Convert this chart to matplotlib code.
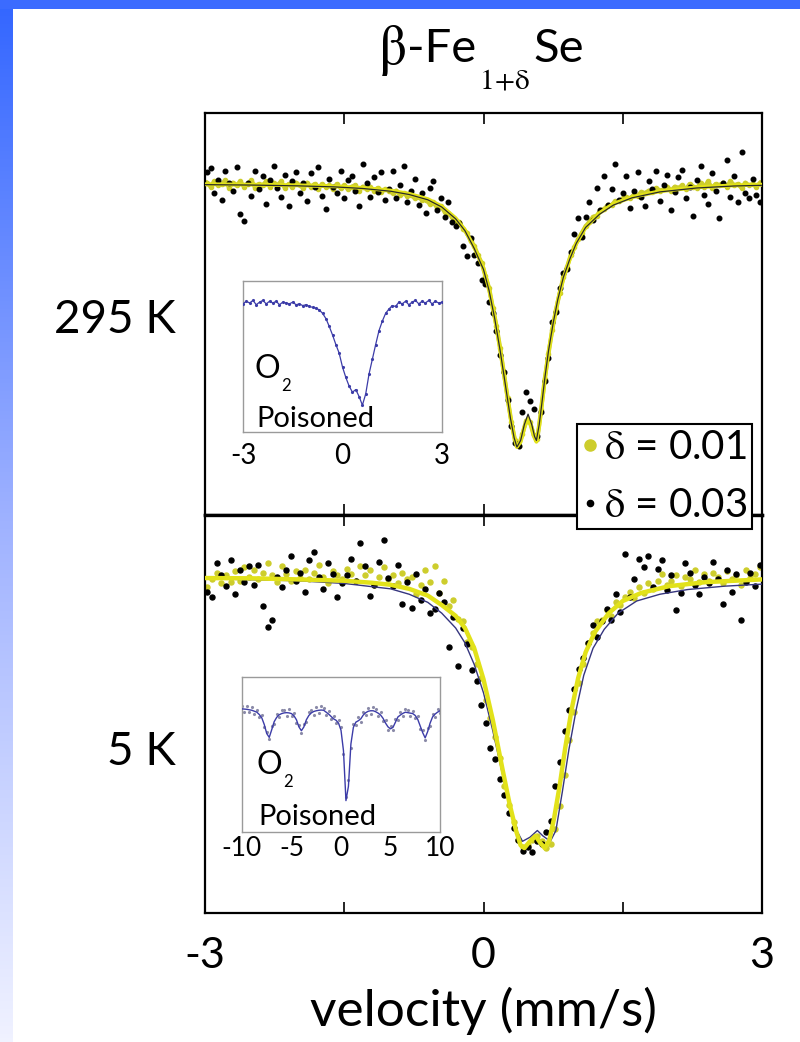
import numpy as np
import matplotlib
matplotlib.use("Agg")
import matplotlib.pyplot as plt
from matplotlib.lines import Line2D
from matplotlib.patches import Rectangle
from matplotlib.colors import LinearSegmentedColormap

plt.rcParams['font.family'] = ['Lato', 'DejaVu Sans']
plt.rcParams['mathtext.fontset'] = 'stix'

# ---------------- data ----------------
# channel velocities (mm/s), 295 K spectra
v_top = [-2.98, -2.94, -2.90, -2.86, -2.82, -2.78, -2.74, -2.70, -2.66, -2.62,
         -2.58, -2.54, -2.50, -2.46, -2.42, -2.38, -2.34, -2.30, -2.26, -2.22,
         -2.18, -2.14, -2.10, -2.06, -2.02, -1.98, -1.94, -1.90, -1.86, -1.82,
         -1.78, -1.74, -1.70, -1.66, -1.62, -1.58, -1.54, -1.50, -1.46, -1.42,
         -1.38, -1.34, -1.30, -1.26, -1.22, -1.18, -1.14, -1.10, -1.06, -1.02,
         -0.98, -0.94, -0.90, -0.86, -0.82, -0.78, -0.74, -0.70, -0.66, -0.62,
         -0.58, -0.54, -0.50, -0.46, -0.42, -0.38, -0.34, -0.30, -0.26, -0.22,
         -0.18, -0.14, -0.10, -0.06, -0.02, 0.02, 0.06, 0.10, 0.14, 0.18,
         0.22, 0.26, 0.30, 0.34, 0.38, 0.42, 0.46, 0.50, 0.54, 0.58,
         0.62, 0.66, 0.70, 0.74, 0.78, 0.82, 0.86, 0.90, 0.94, 0.98,
         1.02, 1.06, 1.10, 1.14, 1.18, 1.22, 1.26, 1.30, 1.34, 1.38,
         1.42, 1.46, 1.50, 1.54, 1.58, 1.62, 1.66, 1.70, 1.74, 1.78,
         1.82, 1.86, 1.90, 1.94, 1.98, 2.02, 2.06, 2.10, 2.14, 2.18,
         2.22, 2.26, 2.30, 2.34, 2.38, 2.42, 2.46, 2.50, 2.54, 2.58,
         2.62, 2.66, 2.70, 2.74, 2.78, 2.82, 2.86, 2.90, 2.94, 2.98]

# relative transmission (%), delta = 0.03, 295 K
t_top_003 = [100.9, 101.2, 99.3, 100.3, 98.8, 101.0, 100.1, 99.5, 101.3, 97.7,
             97.2, 100.1, 99.1, 101.0, 99.6, 100.6, 98.5, 100.3, 101.4, 99.7,
             99.0, 100.7, 98.3, 100.2, 100.9, 99.3, 100.1, 98.7, 100.8, 99.8,
             101.3, 99.1, 98.1, 100.4, 99.8, 99.3, 101.0, 98.9, 100.3, 100.6,
             99.5, 98.3, 101.5, 100.1, 99.0, 100.5, 99.4, 100.9, 98.8, 99.6,
             101.0, 98.9, 99.9, 101.4, 98.6, 99.5, 100.4, 98.4, 99.3, 97.8,
             99.7, 100.2, 98.0, 98.9, 97.5, 98.6, 97.1, 96.8, 97.0, 95.3,
             94.5, 95.9, 94.6, 94.0, 92.7, 92.4, 91.0, 90.2, 88.8, 87.0,
             85.7, 83.6, 81.6, 80.3, 80.1, 82.7, 84.2, 83.5, 82.9, 80.8,
             82.7, 85.0, 86.8, 89.5, 90.3, 92.1, 93.2, 93.5, 94.8, 96.2,
             97.4, 96.0, 97.5, 98.6, 97.3, 99.7, 98.0, 100.6, 98.4, 99.6,
             101.5, 98.8, 99.3, 100.6, 98.2, 99.5, 100.9, 99.0, 98.3, 100.2,
             99.6, 101.0, 98.7, 99.9, 100.7, 98.0, 99.4, 100.5, 101.1, 98.9,
             99.8, 97.6, 100.3, 101.4, 99.2, 98.5, 100.8, 99.5, 97.4, 100.1,
             101.8, 99.0, 100.6, 98.6, 102.4, 99.3, 98.9, 100.4, 99.2, 98.6]

# relative transmission (%), delta = 0.01, 295 K
t_top_001 = [100.1, 99.8, 100.2, 99.9, 100.0, 100.3, 99.7, 100.1, 99.9, 100.2,
             99.8, 100.0, 100.3, 99.7, 100.0, 99.9, 100.2, 99.8, 100.1, 99.9,
             100.2, 99.7, 100.0, 99.8, 100.1, 99.9, 99.7, 100.1, 99.8, 100.0,
             99.6, 100.0, 99.8, 99.9, 99.6, 100.0, 99.7, 99.9, 99.6, 99.8,
             99.9, 99.5, 99.8, 99.6, 99.8, 99.5, 99.7, 99.4, 99.6, 99.5,
             99.3, 99.5, 99.2, 99.3, 99.1, 99.2, 98.9, 99.0, 98.8, 98.8,
             98.5, 98.6, 98.2, 98.3, 97.9, 97.8, 97.5, 97.2, 97.1, 96.6,
             96.3, 95.7, 95.3, 94.6, 94.0, 93.0, 92.1, 90.6, 89.2, 87.5,
             85.6, 83.7, 81.9, 80.5, 80.1, 81.0, 82.0, 81.9, 80.9, 80.6,
             82.8, 85.2, 87.1, 88.9, 90.4, 91.7, 92.9, 93.7, 94.6, 95.2,
             95.8, 96.3, 96.8, 97.1, 97.5, 97.6, 98.0, 98.1, 98.4, 98.4,
             98.7, 98.7, 98.9, 99.0, 98.9, 99.2, 99.1, 99.4, 99.3, 99.5,
             99.4, 99.7, 99.5, 99.6, 99.8, 99.5, 99.8, 99.7, 99.9, 99.6,
             100.0, 99.8, 99.7, 100.1, 99.8, 100.2, 99.7, 100.0, 99.9, 100.1,
             99.8, 100.2, 99.9, 100.0, 99.7, 100.1, 99.9, 100.0, 99.8, 100.1]

# fitted curves, 295 K
fit_top_v = [-3.0, -2.5, -2.0, -1.6, -1.3, -1.0, -0.8, -0.6, -0.45, -0.3,
             -0.2, -0.1, 0.0, 0.06, 0.12, 0.18, 0.23, 0.29, 0.33, 0.36,
             0.40, 0.44, 0.48, 0.52, 0.55, 0.57, 0.60, 0.63, 0.66, 0.70,
             0.75, 0.80, 0.86, 0.93, 1.0, 1.1, 1.25, 1.4, 1.6, 1.9,
             2.3, 2.7, 3.0]
fit_top_001 = [99.98, 99.95, 99.9, 99.82, 99.7, 99.5, 99.25, 98.85, 98.3, 97.4,
               96.5, 95.2, 93.6, 92.0, 89.9, 87.4, 85.1, 82.3, 80.8, 80.0,
               80.4, 81.5, 82.2, 81.5, 80.7, 80.4, 81.6, 83.3, 85.1, 87.2,
               89.3, 91.1, 92.8, 94.3, 95.5, 96.7, 97.8, 98.5, 99.0, 99.45,
               99.75, 99.9, 99.95]
fit_top_003 = [99.95, 99.92, 99.86, 99.78, 99.66, 99.45, 99.2, 98.8, 98.25, 97.35,
               96.45, 95.1, 93.5, 91.9, 89.8, 87.3, 85.0, 82.2, 80.7, 80.0,
               80.5, 81.7, 82.5, 81.7, 80.8, 80.5, 81.7, 83.4, 85.2, 87.3,
               89.4, 91.2, 92.9, 94.3, 95.5, 96.7, 97.7, 98.4, 98.95, 99.4,
               99.7, 99.85, 99.9]

# channel velocities (mm/s), 5 K spectra
v_bot = [-2.975, -2.925, -2.875, -2.825, -2.775, -2.725, -2.675, -2.625, -2.575, -2.525,
         -2.475, -2.425, -2.375, -2.325, -2.275, -2.225, -2.175, -2.125, -2.075, -2.025,
         -1.975, -1.925, -1.875, -1.825, -1.775, -1.725, -1.675, -1.625, -1.575, -1.525,
         -1.475, -1.425, -1.375, -1.325, -1.275, -1.225, -1.175, -1.125, -1.075, -1.025,
         -0.975, -0.925, -0.875, -0.825, -0.775, -0.725, -0.675, -0.625, -0.575, -0.525,
         -0.475, -0.425, -0.375, -0.325, -0.275, -0.225, -0.175, -0.125, -0.075, -0.025,
         0.025, 0.075, 0.125, 0.175, 0.225, 0.275, 0.325, 0.375, 0.425, 0.475,
         0.525, 0.575, 0.625, 0.675, 0.725, 0.775, 0.825, 0.875, 0.925, 0.975,
         1.025, 1.075, 1.125, 1.175, 1.225, 1.275, 1.325, 1.375, 1.425, 1.475,
         1.525, 1.575, 1.625, 1.675, 1.725, 1.775, 1.825, 1.875, 1.925, 1.975,
         2.025, 2.075, 2.125, 2.175, 2.225, 2.275, 2.325, 2.375, 2.425, 2.475,
         2.525, 2.575, 2.625, 2.675, 2.725, 2.775, 2.825, 2.875, 2.925, 2.975]

t_bot_003 = [99.0, 98.6, 101.1, 100.2, 99.4, 101.3, 98.8, 100.6, 99.7, 100.9,
             99.5, 101.0, 97.9, 96.4, 96.9, 100.1, 99.3, 100.6, 101.6, 99.8,
             100.4, 99.0, 101.3, 101.9, 100.1, 99.2, 101.1, 100.3, 98.6, 99.6,
             100.2, 101.4, 99.8, 102.6, 100.9, 98.7, 99.5, 101.2, 102.8, 100.0,
             99.4, 101.0, 98.1, 99.7, 97.8, 100.3, 98.4, 99.2, 97.4, 97.7,
             98.9, 98.2, 94.9, 97.1, 93.5, 96.3, 95.1, 93.2, 92.4, 90.6,
             89.3, 87.4, 86.6, 85.1, 83.9, 82.6, 81.5, 80.6, 79.8, 80.1,
             79.7, 80.5, 80.3, 81.2, 82.0, 84.6, 86.4, 88.7, 90.2, 91.8,
             93.3, 94.1, 95.2, 96.5, 95.6, 96.8, 97.7, 96.9, 98.8, 97.5,
             101.8, 98.6, 99.9, 101.4, 100.8, 101.6, 99.3, 100.7, 101.3, 99.1,
             100.2, 97.6, 98.9, 101.1, 100.4, 99.5, 98.8, 100.1, 99.6, 101.2,
             99.9, 98.1, 100.6, 99.0, 100.3, 96.9, 99.7, 100.4, 99.4, 101.0]

t_bot_001 = [99.3, 99.9, 100.4, 99.6, 100.2, 99.7, 100.5, 99.8, 100.8, 100.1,
             100.6, 99.9, 100.4, 101.1, 100.2, 99.7, 100.9, 100.3, 99.8, 100.5,
             100.0, 100.6, 99.9, 100.4, 101.0, 100.1, 99.6, 100.5, 100.2, 99.9,
             100.7, 100.3, 99.8, 100.9, 100.2, 100.6, 99.5, 100.1, 100.8, 99.9,
             100.2, 99.6, 100.4, 99.9, 100.1, 98.8, 99.5, 100.6, 99.7, 100.9,
             98.9, 99.8, 97.9, 98.4, 97.0, 96.8, 95.3, 94.9, 93.6, 92.6,
             91.0, 89.6, 88.2, 86.7, 84.6, 83.2, 81.9, 80.6, 80.1, 80.2,
             80.6, 80.9, 80.5, 80.0, 80.3, 81.4, 83.1, 85.4, 88.0, 90.1,
             92.2, 93.6, 95.2, 95.9, 96.8, 96.9, 97.6, 97.2, 98.2, 98.0,
             98.6, 99.0, 98.5, 99.3, 98.9, 99.6, 99.2, 99.8, 100.3, 99.5,
             99.8, 100.2, 99.4, 100.1, 99.9, 100.6, 99.7, 100.3, 99.8, 100.4,
             100.1, 99.6, 100.5, 99.9, 100.2, 99.5, 100.6, 100.0, 100.3, 100.8]

# fitted curves, 5 K
fit_bot_v1 = [-3.0, -2.5, -2.0, -1.5, -1.2, -1.0, -0.8, -0.6, -0.45, -0.3,
              -0.2, -0.1, 0.0, 0.1, 0.2, 0.28, 0.35, 0.40, 0.44, 0.50,
              0.56, 0.61, 0.66, 0.71, 0.76, 0.82, 0.88, 0.95, 1.02, 1.1,
              1.2, 1.35, 1.5, 1.7, 2.0, 2.4, 3.0]
fit_bot_001 = [100.0, 99.98, 99.9, 99.8, 99.65, 99.5, 99.2, 98.7, 98.0, 97.2,
               96.3, 94.8, 92.5, 89.5, 86.0, 83.3, 81.3, 80.2, 80.0, 80.5,
               80.9, 80.4, 80.0, 80.6, 82.2, 84.6, 87.4, 90.3, 92.6, 94.5,
               96.0, 97.4, 98.3, 98.9, 99.4, 99.7, 99.9]
fit_bot_v2 = [-3.0, -2.0, -1.5, -1.0, -0.8, -0.6, -0.45, -0.3, -0.2, -0.1,
              0.0, 0.1, 0.2, 0.28, 0.35, 0.42, 0.50, 0.58, 0.64, 0.72,
              0.78, 0.85, 0.92, 1.0, 1.08, 1.18, 1.3, 1.45, 1.65, 1.9,
              2.2, 2.6, 3.0]
fit_bot_003 = [99.95, 99.8, 99.6, 99.2, 98.8, 98.2, 97.4, 96.3, 95.2, 93.6,
               91.5, 88.7, 85.6, 83.2, 81.4, 80.5, 80.8, 81.3, 80.9, 80.5,
               81.3, 84.2, 87.3, 90.3, 92.8, 94.8, 96.2, 97.4, 98.3, 98.8,
               99.15, 99.4, 99.55]

# inset: O2-poisoned, 295 K
ins_top_v = [-3.0, -2.9, -2.8, -2.7, -2.6, -2.5, -2.4, -2.3, -2.2, -2.1,
             -2.0, -1.9, -1.8, -1.7, -1.6, -1.5, -1.4, -1.3, -1.2, -1.1,
             -1.0, -0.9, -0.8, -0.7, -0.6, -0.5, -0.4, -0.3, -0.2, -0.1,
             0.0, 0.1, 0.2, 0.3, 0.4, 0.5, 0.6, 0.7, 0.8, 0.9,
             1.0, 1.1, 1.2, 1.3, 1.4, 1.5, 1.6, 1.7, 1.8, 1.9,
             2.0, 2.1, 2.2, 2.3, 2.4, 2.5, 2.6, 2.7, 2.8, 2.9,
             3.0]
ins_top_t = [99.9, 100.2, 100.0, 100.3, 99.8, 100.1, 100.3, 99.9, 100.2, 100.0,
             100.2, 99.8, 100.1, 100.0, 99.9, 100.1, 99.8, 99.9, 99.7, 99.8,
             99.6, 99.5, 99.4, 99.2, 98.8, 98.2, 97.3, 96.3, 95.2, 94.2,
             92.6, 91.4, 90.4, 89.7, 90.0, 89.2, 88.2, 89.5, 91.8, 93.5,
             95.2, 96.8, 97.9, 98.8, 99.3, 99.7, 99.6, 100.1, 99.9, 100.2,
             99.8, 100.1, 100.3, 99.9, 100.2, 100.0, 100.3, 99.9, 100.2, 100.0,
             100.1]

# inset: O2-poisoned, 5 K (wide velocity range)
ins_bot_v = [-10.0, -9.75, -9.5, -9.25, -9.0, -8.75, -8.5, -8.25, -8.0, -7.75,
             -7.5, -7.25, -7.0, -6.75, -6.5, -6.25, -6.0, -5.75, -5.5, -5.25,
             -5.0, -4.75, -4.5, -4.25, -4.0, -3.75, -3.5, -3.25, -3.0, -2.75,
             -2.5, -2.25, -2.0, -1.75, -1.5, -1.25, -1.0, -0.75, -0.5, -0.25,
             0.0,
             0.25, 0.5, 0.75, 1.0, 1.25, 1.5, 1.75, 2.0, 2.25, 2.5,
             2.75, 3.0, 3.25, 3.5, 3.75, 4.0, 4.25, 4.5, 4.75, 5.0,
             5.25, 5.5, 5.75, 6.0, 6.25, 6.5, 6.75, 7.0, 7.25, 7.5,
             7.75, 8.0, 8.25, 8.5, 8.75, 9.0, 9.25, 9.5, 9.75, 10.0]
ins_bot_fit = [99.8, 99.75, 99.7, 99.6, 99.5, 99.3, 99.1, 98.6, 97.9, 96.5,
               94.6, 93.8, 95.4, 97.1, 98.0, 98.55, 98.8, 98.95, 99.0, 98.95,
               98.8, 98.35, 97.5, 96.0, 95.2, 96.0, 97.5, 98.4, 98.95, 99.25,
               99.4, 99.5, 99.55, 99.5, 99.1, 98.7, 98.2, 97.7, 97.4, 96.8,
               95.3,
               91.0, 80.5, 83.5, 92.4, 95.9, 97.0, 97.3, 97.7, 98.5, 99.0,
               99.3, 99.4, 99.4, 99.2, 98.9, 98.5, 97.8, 96.8, 96.0, 95.6,
               95.9, 97.0, 98.1, 98.5, 98.85, 99.1, 99.0, 98.9, 98.8, 98.4,
               97.6, 96.2, 94.8, 93.7, 95.0, 96.8, 98.1, 98.7, 99.1, 99.4]
ins_bot_data = [100.4, 99.2, 100.3, 99.1, 100.2, 98.7, 99.6, 98.1, 98.5, 96.0,
                94.9, 93.4, 96.1, 96.6, 98.7, 98.0, 99.5, 99.6, 98.4, 99.7,
                98.2, 99.0, 96.9, 96.5, 94.8, 96.7, 97.0, 99.1, 99.6, 98.6,
                100.1, 99.0, 100.4, 99.9, 98.5, 99.4, 97.6, 98.3, 96.8, 97.5,
                96.0,
                90.2, 81.2, 84.9, 91.5, 96.6, 96.3, 98.0, 97.1, 99.2, 98.6,
                100.0, 98.8, 100.1, 99.8, 98.3, 99.2, 97.2, 97.5, 95.4, 96.1,
                95.3, 97.6, 97.5, 99.2, 98.3, 99.8, 99.5, 98.3, 99.4, 97.8,
                98.2, 95.6, 95.3, 93.2, 95.7, 96.1, 98.7, 98.1, 99.8, 99.0]

main_ticks = [-3, -1.5, 0, 1.5, 3]
main_ticklabels = ['-3', '', '0', '', '3']
labels = [r'$\mathrm{\delta}$ = 0.01', r'$\mathrm{\delta}$ = 0.03']

# ---------------- styling ----------------
YEL_PT = '#cdcd2c'
YEL_LN = '#e2e21a'
NAVY = '#35357e'
INS_LN = '#3c3ca8'

W, H = 800, 1042
fig = plt.figure(figsize=(W / 100, H / 100), dpi=100)
fig.patch.set_facecolor('white')
renderer = fig.canvas.get_renderer()


def fx(px):
    return px / W


def fy(py):
    return 1 - py / H


# slide background: blue top band and left gradient strip
bg = fig.add_axes([0, 0, 13 / W, 1])
cmap = LinearSegmentedColormap.from_list('bg', ['#3366ff', '#9fb2ff', '#f0f2ff'])
bg.imshow(np.linspace(0, 1, 256)[:, None], aspect='auto', cmap=cmap,
          extent=[0, 1, 0, 1], origin='upper')
bg.axis('off')
fig.patches.append(Rectangle((0, fy(9)), 1, 9 / H, transform=fig.transFigure,
                             facecolor='#3b6bff', edgecolor='none', zorder=0))

ax1 = fig.add_axes([fx(205), fy(515), 557 / W, 402 / H])
ax2 = fig.add_axes([fx(205), fy(913), 557 / W, 398 / H])
for ax in (ax1, ax2):
    ax.set_xlim(-3, 3)
    ax.set_xticks(main_ticks)
    ax.tick_params(axis='x', direction='in', length=8, width=1.2, top=True,
                   bottom=True, labelsize=31, pad=17)
    ax.set_yticks([])
    for s in ax.spines.values():
        s.set_linewidth(1.6)
ax1.spines['bottom'].set_linewidth(2.4)
ax2.spines['top'].set_linewidth(2.4)
ax1.set_xticklabels([])
ax2.set_xticklabels(main_ticklabels)
ax1.set_ylim(74.83, 105.4)
ax2.set_ylim(75.19, 104.67)

# 295 K panel
ax1.plot(v_top, t_top_001, color=YEL_PT, lw=3.0, marker='o', ms=3.0, zorder=2)
ax1.plot(v_top, t_top_003, ls='none', marker='o', ms=3.3, color='black', zorder=3)
ax1.plot(fit_top_v, fit_top_001, color=YEL_LN, lw=2.8, zorder=4)
ax1.plot(fit_top_v, fit_top_003, color='#2a2a2a', lw=0.9, zorder=5)

# 5 K panel
ax2.plot(v_bot, t_bot_001, ls='none', marker='o', ms=3.6, color=YEL_PT, zorder=2)
ax2.plot(v_bot, t_bot_003, ls='none', marker='o', ms=3.6, color='black', zorder=3)
ax2.plot(fit_bot_v2, fit_bot_003, color=NAVY, lw=1.0, zorder=4)
ax2.plot(fit_bot_v1, fit_bot_001, color=YEL_LN, lw=3.2, zorder=5)

ax2.set_xlabel('velocity (mm/s)', fontsize=37, labelpad=9)

# insets
ins1 = fig.add_axes([fx(243), fy(432), 199 / W, 151 / H])
ins1.set_xlim(-3, 3)
ins1.set_ylim(85.1, 102.54)
ins1.plot(ins_top_v, ins_top_t, color=INS_LN, lw=0.9, marker='.', ms=2.5, zorder=3)
ins1.set_xticks([-3, 0, 3])
ins1.set_xticklabels(['-3', '0', '3'])
ins1.tick_params(axis='x', direction='in', length=0, labelsize=20, pad=8)
ins1.set_yticks([])

ins2 = fig.add_axes([fx(242), fy(832), 198 / W, 155 / H])
ins2.set_xlim(-10, 10)
ins2.set_ylim(73.9, 106.5)
ins2.plot(ins_bot_v, ins_bot_data, ls='none', marker='.', ms=2.5, color='#8a8aa8', zorder=2)
ins2.plot(ins_bot_v, ins_bot_fit, color=INS_LN, lw=1.0, zorder=3)
ins2.set_xticks([-10, -5, 0, 5, 10])
ins2.set_xticklabels(['-10', '-5', '0', '5', '10'])
ins2.tick_params(axis='x', direction='in', length=0, labelsize=19, pad=3)
ins2.set_yticks([])

for ins in (ins1, ins2):
    ins.set_facecolor('white')
    for s in ins.spines.values():
        s.set_color('#9a9a9a')
        s.set_linewidth(1.0)

# inset annotations
fig.text(fx(255), fy(369), 'O', fontsize=23, ha='left', va='center')
fig.text(fx(281), fy(386), '2', fontsize=12, ha='left', va='center')
fig.text(fx(256), fy(419), 'Poisoned', fontsize=21, ha='left', va='center')
fig.text(fx(257), fy(765), 'O', fontsize=23, ha='left', va='center')
fig.text(fx(283), fy(782), '2', fontsize=12, ha='left', va='center')
fig.text(fx(258), fy(817), 'Poisoned', fontsize=21, ha='left', va='center')

# temperature labels
fig.text(fx(176), fy(320), '295 K', fontsize=33, ha='right', va='center')
fig.text(fx(176), fy(752), '5 K', fontsize=33, ha='right', va='center')


# title, built from pieces so the subscript sits low like the original
def put(s, x, ybase, size):
    t = fig.text(fx(x), fy(ybase), s, fontsize=size, ha='left', va='baseline')
    return t.get_window_extent(renderer=renderer).x1


x = put(r'$\mathrm{\beta}$', 378, 64, 40)
x = put('-Fe', x + 1, 62, 34)
x = put(r'$\mathrm{1\!+\!\delta}$', x + 3, 89, 21)
x = put('Se', x + 3, 62, 34)

# legend
h1 = Line2D([], [], ls='none', marker='o', ms=8, color=YEL_PT)
h2 = Line2D([], [], ls='none', marker='o', ms=4.5, color='black')
leg = fig.legend([h1, h2], labels, loc='upper left',
                 bbox_to_anchor=(fx(577), fy(424)), frameon=True, fancybox=False,
                 fontsize=29, handlelength=0.4, handletextpad=0.15, borderpad=0.12,
                 labelspacing=0.52, borderaxespad=0, framealpha=1)
leg.get_frame().set_edgecolor('black')
leg.get_frame().set_linewidth(1.5)
leg.set_zorder(20)

fig.savefig('out.png', dpi=100)
